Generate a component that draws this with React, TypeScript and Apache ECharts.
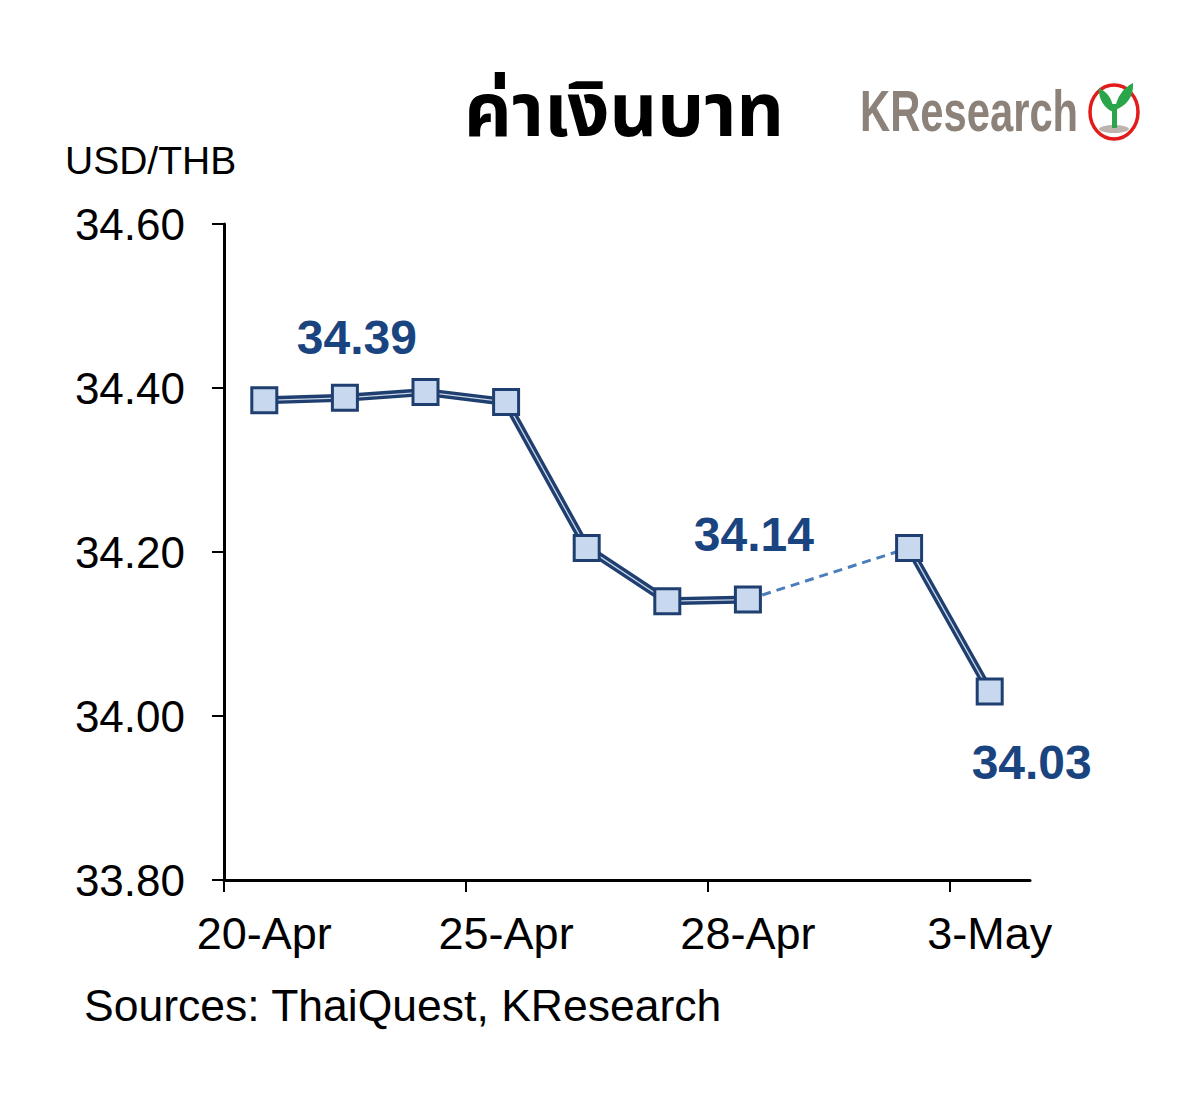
import React, { useEffect, useRef } from "react";
import * as echarts from "echarts";

// ---- data ----
const categories = ["20-Apr", "21-Apr", "22-Apr", "25-Apr", "26-Apr", "27-Apr", "28-Apr", "29-Apr", "2-May", "3-May"];
const usdThb: (number | null)[] = [34.385, 34.388, 34.395, 34.383, 34.205, 34.14, 34.142, null, 34.205, 34.03];
const labeledIndex = [1, 6, 9];
const gapFrom = 6;
const gapTo = 8;
const xLabelIndex = [0, 3, 6, 9];
const xTickBoundaries = [-0.5, 2.5, 5.5, 8.5];
const yMin = 33.8;
const yMax = 34.6;
const yStep = 0.2;
const titleText = "ค่าเงินบาท";
const unitText = "USD/THB";
const sourceText = "Sources: ThaiQuest, KResearch";
const logoText = "KResearch";

// ---- styles ----
const labelOffsets: Record<number, [number, number]> = { 1: [12, -60], 6: [6, -65], 9: [42, 71] };
const DARK = "#1f3f70";
const LABEL = "#1a4480";
const FONT = "'Liberation Sans', Arial, sans-serif";

echarts.graphic.registerShape(
  "leafL",
  echarts.graphic.extendPath("M0,0 C-8,-3 -15,-13 -14,-24 C-5,-20 1,-11 0,0 Z", {})
);
echarts.graphic.registerShape(
  "leafR",
  echarts.graphic.extendPath("M0,0 C1,-12 8,-22 18,-27 C19,-13 11,-4 0,0 Z", {})
);

export default function App() {
  const ref = useRef<HTMLDivElement>(null);
  useEffect(() => {
    document.body.style.margin = "0";
    const chart = echarts.init(ref.current!, null, { renderer: "svg" });
    const lineData = usdThb.map((v, i) => (v == null ? [i, "-"] : [i, v]));
    const symbolData = usdThb.map((v, i) => {
      if (v == null) return [i, "-"];
      if (labeledIndex.includes(i)) {
        return {
          value: [i, v],
          label: {
            show: true,
            position: "inside",
            offset: labelOffsets[i],
            formatter: (p: any) => Number(p.value[1]).toFixed(2),
            color: LABEL,
            fontSize: 48,
            fontWeight: "bold",
            fontFamily: FONT,
          },
        };
      }
      return [i, v];
    });
    chart.setOption({
      animation: false,
      backgroundColor: "#ffffff",
      grid: { left: 224, right: 170, top: 224, bottom: 218, containLabel: false },
      xAxis: {
        type: "value",
        min: -0.5,
        max: categories.length - 0.5,
        splitLine: { show: false },
        axisLine: { show: true, onZero: false, lineStyle: { color: "#000", width: 3 } },
        axisTick: { show: true, customValues: xTickBoundaries, length: 12, lineStyle: { color: "#000", width: 2 } },
        axisLabel: {
          customValues: xLabelIndex,
          formatter: (v: number) => categories[Math.round(v)] ?? "",
          color: "#000",
          fontSize: 45,
          fontFamily: FONT,
          margin: 31,
        },
      },
      yAxis: {
        type: "value",
        min: yMin,
        max: yMax,
        interval: yStep,
        splitLine: { show: false },
        axisLine: { show: true, onZero: false, lineStyle: { color: "#000", width: 3 } },
        axisTick: { show: true, length: 12, lineStyle: { color: "#000", width: 2 } },
        axisLabel: {
          formatter: (v: number) => v.toFixed(2),
          color: "#000",
          fontSize: 44,
          fontFamily: FONT,
          margin: 39,
        },
      },
      series: [
        {
          type: "line",
          data: [lineData[gapFrom], lineData[gapTo]],
          symbol: "none",
          lineStyle: { color: "#4a7ebb", width: 3, type: [9, 6] },
          z: 2,
        },
        {
          type: "line",
          data: lineData,
          symbol: "none",
          connectNulls: false,
          lineStyle: { color: DARK, width: 8 },
          z: 2,
        },
        {
          type: "line",
          data: lineData,
          symbol: "none",
          connectNulls: false,
          lineStyle: { color: "#c9d6e6", width: 1.3 },
          z: 3,
        },
        {
          type: "line",
          data: symbolData,
          symbol: "rect",
          symbolSize: 25,
          showAllSymbol: true,
          lineStyle: { width: 0, opacity: 0 },
          itemStyle: { color: "#c8d8ef", borderColor: DARK, borderWidth: 3 },
          z: 4,
        },
      ],
      graphic: [
        {
          type: "text",
          x: 624,
          y: 113,
          style: {
            text: titleText,
            fontSize: 74,
            fontWeight: "bold",
            fill: "#000",
            fontFamily: "'Noto Sans Thai', Tahoma, 'DejaVu Sans', sans-serif",
            textAlign: "center",
            textVerticalAlign: "middle",
          },
        },
        {
          type: "text",
          x: 65,
          y: 141,
          style: { text: unitText, fontSize: 39, fill: "#000", fontFamily: FONT },
        },
        {
          type: "text",
          x: 84,
          y: 983,
          style: { text: sourceText, fontSize: 44.5, fill: "#000", fontFamily: FONT },
        },
        {
          type: "text",
          x: 860,
          y: 82,
          scaleX: 0.72,
          style: { text: logoText, fontSize: 58, fontWeight: "bold", fill: "#8c8279", fontFamily: FONT },
        },
        {
          type: "ellipse",
          shape: { cx: 1114, cy: 112, rx: 24, ry: 27 },
          style: { fill: "#fff", stroke: "#e21b1b", lineWidth: 3.5 },
        },
        {
          type: "ellipse",
          shape: { cx: 1114, cy: 129, rx: 15, ry: 4 },
          style: { fill: "#bdb5ad" },
        },
        {
          type: "rect",
          shape: { x: 1112, y: 104, width: 5, height: 24 },
          style: { fill: "#2aa54a" },
        },
        { type: "leafL", x: 1113, y: 112, style: { fill: "#2aa54a" } },
        { type: "leafR", x: 1115, y: 110, style: { fill: "#2aa54a" } },
      ],
    });
    return () => chart.dispose();
  }, []);
  return <div ref={ref} style={{ width: 1200, height: 1098 }} />;
}
